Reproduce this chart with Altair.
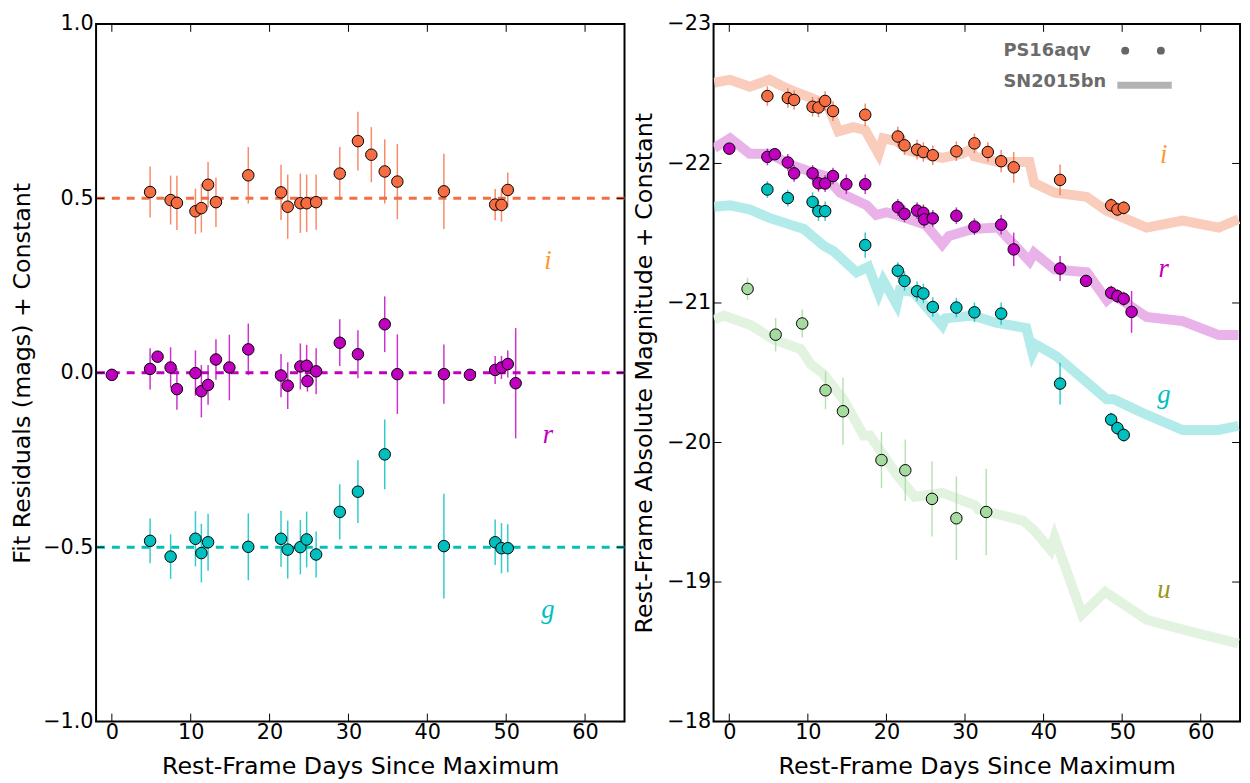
import altair as alt
import pandas as pd

# ---------------- PS16aqv photometry ----------------
i_days = [4.85, 7.45, 8.25, 10.6, 11.35, 12.2, 13.2, 17.3, 21.45, 22.3, 23.9, 24.7, 25.9,
          28.9, 31.2, 32.9, 34.6, 36.2, 42.1, 48.6, 49.4, 50.2]
i_res = [0.518, 0.495, 0.487, 0.463, 0.472, 0.539, 0.489, 0.566, 0.517, 0.476, 0.486, 0.486,
         0.489, 0.571, 0.664, 0.625, 0.577, 0.548, 0.52, 0.482, 0.481, 0.524]
i_res_err = [0.073, 0.07, 0.078, 0.065, 0.07, 0.065, 0.071, 0.081, 0.079, 0.092, 0.085, 0.082,
             0.079, 0.076, 0.084, 0.079, 0.092, 0.108, 0.108, 0.045, 0.048, 0.05]
i_mag = [-22.483, -22.469, -22.455, -22.406, -22.401, -22.448, -22.375, -22.349, -22.193,
         -22.13, -22.099, -22.082, -22.059, -22.087, -22.144, -22.082, -22.016, -21.972,
         -21.882, -21.70, -21.67, -21.682]
i_mag_err = [0.07, 0.07, 0.07, 0.07, 0.07, 0.07, 0.07, 0.08, 0.07, 0.07, 0.07, 0.07, 0.07,
             0.07, 0.07, 0.07, 0.08, 0.11, 0.11, 0.05, 0.05, 0.05]

r_days = [0.0, 4.85, 5.8, 7.45, 8.25, 10.6, 11.35, 12.2, 13.2, 14.9, 17.3, 21.45, 22.3, 23.9,
          24.7, 24.8, 25.9, 28.9, 31.2, 34.6, 36.2, 42.1, 45.4, 48.6, 49.4, 50.2, 51.2]
r_res = [-0.006, 0.011, 0.046, 0.015, -0.047, -0.001, -0.053, -0.035, 0.038, 0.015, 0.067,
         -0.008, -0.037, 0.018, 0.02, -0.024, 0.004, 0.086, 0.053, 0.139, -0.004, -0.004,
         -0.006, 0.008, 0.015, 0.025, -0.03]
r_res_err = [0.0, 0.059, 0.0, 0.058, 0.059, 0.065, 0.075, 0.057, 0.058, 0.094, 0.074, 0.062,
             0.067, 0.066, 0.06, 0.03, 0.066, 0.067, 0.069, 0.08, 0.114, 0.085, 0.0, 0.04,
             0.033, 0.039, 0.158]
r_mag = [-22.106, -22.047, -22.066, -22.007, -21.929, -21.929, -21.858, -21.856, -21.91,
         -21.851, -21.851, -21.686, -21.639, -21.662, -21.646, -21.599, -21.606, -21.625,
         -21.547, -21.561, -21.384, -21.247, -21.158, -21.073, -21.049, -21.03, -20.936]
r_mag_err = [0.0, 0.06, 0.03, 0.06, 0.06, 0.06, 0.06, 0.06, 0.06, 0.07, 0.07, 0.06, 0.06, 0.06,
             0.06, 0.06, 0.06, 0.06, 0.06, 0.07, 0.12, 0.09, 0.0, 0.05, 0.05, 0.05, 0.15]

g_days = [4.85, 7.45, 10.6, 11.35, 12.2, 17.3, 21.45, 22.3, 23.9, 24.7, 25.9, 28.9, 31.2,
          34.6, 42.1, 48.6, 49.4, 50.2]
g_res = [-0.482, -0.527, -0.476, -0.517, -0.486, -0.499, -0.476, -0.507, -0.5, -0.478,
         -0.521, -0.399, -0.341, -0.234, -0.497, -0.486, -0.503, -0.503]
g_res_err = [0.064, 0.064, 0.079, 0.084, 0.082, 0.096, 0.08, 0.083, 0.078, 0.08, 0.066,
             0.079, 0.09, 0.1, 0.15, 0.065, 0.072, 0.069]
g_mag = [-21.813, -21.752, -21.724, -21.658, -21.658, -21.415, -21.231, -21.158, -21.084,
         -21.068, -20.971, -20.967, -20.933, -20.924, -20.422, -20.164, -20.103, -20.054]
g_mag_err = [0.06, 0.06, 0.07, 0.07, 0.07, 0.09, 0.06, 0.07, 0.07, 0.07, 0.07, 0.07, 0.07,
             0.08, 0.15, 0.05, 0.05, 0.05]

u_days = [2.33, 5.9, 9.28, 12.25, 14.47, 19.37, 22.4, 25.8, 28.9, 32.7]
u_mag = [-21.101, -20.773, -20.853, -20.374, -20.224, -19.874, -19.801, -19.596, -19.457,
         -19.502]
u_mag_err = [0.08, 0.12, 0.1, 0.135, 0.24, 0.2, 0.22, 0.27, 0.3, 0.31]

# ---------------- SN2015bn comparison curves ----------------
bn_i_days = [-1.9, 0.1, 2.6, 5.1, 7.6, 10.4, 12.5, 13.9, 15.8, 17.3, 19.0, 19.6, 21.3, 22.9,
             27.1, 29.6, 30.7, 31.2, 34.2, 38.2, 38.8, 41.4, 45.5, 48.05, 53.1, 57.7, 62.3, 64.8]
bn_i_mag = [-22.58, -22.60, -22.55, -22.60, -22.53, -22.47, -22.42, -22.23, -22.26, -22.24,
            -22.07, -22.18, -22.16, -22.09, -22.04, -22.07, -22.10, -22.05, -22.01, -22.01,
            -21.86, -21.79, -21.76, -21.66, -21.54, -21.59, -21.54, -21.60]
bn_r_days = [-1.9, 0.1, 2.6, 5.1, 7.85, 10.4, 12.25, 14.1, 17.5, 18.7, 20.0, 21.3, 25.0, 27.1,
             27.95, 31.0, 34.2, 38.2, 38.8, 41.4, 45.5, 48.05, 48.9, 53.1, 57.7, 62.3, 64.8]
bn_r_mag = [-22.11, -22.18, -22.07, -22.07, -21.99, -21.94, -21.91, -21.79, -21.70, -21.63,
            -21.65, -21.63, -21.56, -21.42, -21.48, -21.53, -21.54, -21.30, -21.36, -21.24,
            -21.22, -21.02, -21.06, -20.90, -20.87, -20.77, -20.77]
bn_g_days = [-1.9, 0.1, 2.6, 5.1, 7.85, 9.5, 12.0, 13.3, 16.2, 17.7, 19.0, 19.6, 21.3, 21.7,
             23.4, 27.1, 27.5, 31.0, 33.8, 37.8, 38.6, 39.1, 41.6, 48.05, 48.9, 52.7, 57.7,
             62.3, 64.8]
bn_g_mag = [-21.69, -21.70, -21.67, -21.61, -21.56, -21.53, -21.41, -21.37, -21.22, -21.26,
            -21.07, -21.16, -20.99, -21.09, -21.08, -20.84, -20.89, -20.91, -20.86, -20.82,
            -20.64, -20.70, -20.62, -20.31, -20.31, -20.21, -20.09, -20.09, -20.12]
bn_u_days = [-1.9, -0.7, 2.8, 5.55, 9.1, 10.4, 12.0, 14.5, 17.1, 17.9, 21.3, 23.6, 27.1, 31.3,
             31.7, 37.4, 38.8, 40.9, 41.4, 44.9, 47.85, 53.1, 57.7, 64.8]
bn_u_mag = [-20.88, -20.91, -20.84, -20.74, -20.67, -20.56, -20.49, -20.31, -20.05, -20.05,
            -19.77, -19.61, -19.64, -19.55, -19.52, -19.44, -19.37, -19.23, -19.32, -18.77,
            -18.93, -18.73, -18.66, -18.56]

# ---------------- labels / ticks ----------------
bands = ["i", "r", "g", "u"]
point_colors = ["#f46d43", "#bf00bf", "#00bfbf", "#a6dba0"]
curve_colors = ["#f9ccbc", "#e9b3e9", "#b3ebeb", "#e2f3e0"]
label_colors = ["#ff9933", "#bf00bf", "#00bfbf", "#999919"]
offsets = [0.5, 0.0, -0.5]
left_label_day = [55.3, 55.3, 55.3]
left_label_y = [0.32, -0.18, -0.68]
right_label_day = [55.3, 55.3, 55.3, 55.3]
right_label_mag = [-22.06, -21.245, -20.34, -18.945]
x_ticks = [0, 10, 20, 30, 40, 50, 60]
left_y_ticks = [-1.0, -0.5, 0.0, 0.5, 1.0]
right_y_ticks = [-23, -22, -21, -20, -19, -18]

W_L, W_R, H = 534, 532, 705
FONT = "DejaVu Sans"
TICK = 8
LAB = 21
TIT = 24

pt_scale = alt.Scale(domain=bands, range=point_colors)
curve_scale = alt.Scale(domain=bands, range=curve_colors)
lab_scale = alt.Scale(domain=bands, range=label_colors)
xs = alt.Scale(domain=[-2, 65], nice=False, zero=False)
ys_l = alt.Scale(domain=[-1, 1], nice=False, zero=False)
ys_r = alt.Scale(domain=[-23, -18], nice=False, zero=False, reverse=True)


def rows(band, days, val, err):
    return pd.DataFrame({"band": band, "day": days, "val": val,
                         "lo": [v - e for v, e in zip(val, err)],
                         "hi": [v + e for v, e in zip(val, err)]})


res_df = pd.concat([rows("i", i_days, i_res, i_res_err),
                    rows("r", r_days, r_res, r_res_err),
                    rows("g", g_days, g_res, g_res_err)], ignore_index=True)
mag_df = pd.concat([rows("i", i_days, i_mag, i_mag_err),
                    rows("r", r_days, r_mag, r_mag_err),
                    rows("g", g_days, g_mag, g_mag_err),
                    rows("u", u_days, u_mag, u_mag_err)], ignore_index=True)
curve_df = pd.concat([pd.DataFrame({"band": b, "day": d, "val": m, "ord": range(len(d))})
                      for b, d, m in [("i", bn_i_days, bn_i_mag), ("r", bn_r_days, bn_r_mag),
                                      ("g", bn_g_days, bn_g_mag), ("u", bn_u_days, bn_u_mag)]],
                     ignore_index=True)
off_df = pd.DataFrame({"band": ["i", "r", "g"], "val": offsets})
llab_df = pd.DataFrame({"band": ["i", "r", "g"], "day": left_label_day, "val": left_label_y})
rlab_df = pd.DataFrame({"band": bands, "day": right_label_day, "val": right_label_mag})
xt_df = pd.DataFrame({"day": x_ticks})
ylt_df = pd.DataFrame({"val": left_y_ticks})
yrt_df = pd.DataFrame({"val": right_y_ticks})

X_AXIS = alt.Axis(values=x_ticks, format="d", labelFont=FONT, labelFontSize=LAB,
                  labelColor="black", ticks=False, tickSize=0, domain=False, grid=False,
                  labelPadding=0, title="Rest-Frame Days Since Maximum", titleFont=FONT,
                  titleFontSize=TIT, titleFontWeight="normal", titleColor="black",
                  titlePadding=12, labelFlush=False)


def y_axis(vals, fmt, title, tp):
    return alt.Axis(values=vals, format=fmt, labelFont=FONT, labelFontSize=LAB,
                    labelColor="black", ticks=False, tickSize=0, domain=False, grid=False,
                    labelPadding=3, title=title, titleFont=FONT, titleFontSize=TIT,
                    titleFontWeight="normal", titleColor="black", titlePadding=tp,
                    labelFlush=False)


YL_AXIS = y_axis(left_y_ticks, ".1f", "Fit Residuals (mags) + Constant", 8)
YR_AXIS = y_axis(right_y_ticks, "d", "Rest-Frame Absolute Magnitude + Constant", 10)


def X():
    return alt.X("day:Q", scale=xs, axis=X_AXIS)


def tick_layers(ydf, ysc, yax, W):
    bx = alt.Chart(xt_df).mark_rule(color="black", strokeWidth=1).encode(
        x=X(), y=alt.value(H), y2=alt.value(H - TICK))
    tx = alt.Chart(xt_df).mark_rule(color="black", strokeWidth=1).encode(
        x=X(), y=alt.value(0), y2=alt.value(TICK))
    ly = alt.Chart(ydf).mark_rule(color="black", strokeWidth=1).encode(
        y=alt.Y("val:Q", scale=ysc, axis=yax), x=alt.value(0), x2=alt.value(TICK))
    ry = alt.Chart(ydf).mark_rule(color="black", strokeWidth=1).encode(
        y=alt.Y("val:Q", scale=ysc, axis=yax), x=alt.value(W), x2=alt.value(W - TICK))
    return [bx, tx, ly, ry]


# ---------------- left panel ----------------
def YL(f="val"):
    return alt.Y(f + ":Q", scale=ys_l, axis=YL_AXIS)


dashes = alt.Chart(off_df).mark_rule(strokeDash=[8, 7], strokeWidth=3).encode(
    y=YL(), color=alt.Color("band:N", scale=pt_scale, legend=None))
l_err = alt.Chart(res_df).mark_rule(strokeWidth=1.5, opacity=0.8).encode(
    x=X(), y=YL("lo"), y2="hi:Q",
    color=alt.Color("band:N", scale=pt_scale, legend=None))
l_pts = alt.Chart(res_df).mark_circle(size=135, stroke="black", strokeWidth=1,
                                     opacity=1).encode(
    x=X(), y=YL(), fill=alt.Fill("band:N", scale=pt_scale, legend=None))
l_lab = alt.Chart(llab_df).mark_text(font="Liberation Serif", fontStyle="italic",
                                     fontSize=27).encode(
    x=X(), y=YL(), text="band:N",
    color=alt.Color("band:N", scale=lab_scale, legend=None))
left = alt.layer(dashes, l_err, l_pts, l_lab,
                 *tick_layers(ylt_df, ys_l, YL_AXIS, W_L)).resolve_scale(
    color="independent").properties(width=W_L, height=H)


# ---------------- right panel ----------------
def YR(f="val"):
    return alt.Y(f + ":Q", scale=ys_r, axis=YR_AXIS)


curves = alt.Chart(curve_df).mark_line(strokeWidth=10, clip=True).encode(
    x=X(), y=YR(), order="ord:Q", detail="band:N",
    color=alt.Color("band:N", scale=curve_scale, legend=None))
r_err = alt.Chart(mag_df).mark_rule(strokeWidth=1.5, opacity=0.8).encode(
    x=X(), y=YR("lo"), y2="hi:Q",
    color=alt.Color("band:N", scale=pt_scale, legend=None))
r_pts = alt.Chart(mag_df).mark_circle(size=135, stroke="black", strokeWidth=1,
                                     opacity=1).encode(
    x=X(), y=YR(), fill=alt.Fill("band:N", scale=pt_scale, legend=None))
r_lab = alt.Chart(rlab_df).mark_text(font="Liberation Serif", fontStyle="italic",
                                     fontSize=27).encode(
    x=X(), y=YR(), text="band:N",
    color=alt.Color("band:N", scale=lab_scale, legend=None))

# legend drawn by hand (matplotlib style, two markers)
one = pd.DataFrame({"k": [0]})
leg1 = alt.Chart(one).mark_text(font=FONT, fontWeight="bold", fontSize=18, color="#6b6b6b",
                                align="left", baseline="middle", text="PS16aqv").encode(
    x=alt.value(293), y=alt.value(27))
leg2 = alt.Chart(one).mark_text(font=FONT, fontWeight="bold", fontSize=18, color="#6b6b6b",
                                align="left", baseline="middle", text="SN2015bn").encode(
    x=alt.value(293), y=alt.value(59))
dot1 = alt.Chart(one).mark_circle(size=64, color="#666666", opacity=1).encode(
    x=alt.value(416), y=alt.value(27))
dot2 = alt.Chart(one).mark_circle(size=64, color="#666666", opacity=1).encode(
    x=alt.value(452), y=alt.value(27))
leg_line = alt.Chart(one).mark_rule(strokeWidth=7, color="#b3b3b3").encode(
    x=alt.value(408), x2=alt.value(463), y=alt.value(62))

right = alt.layer(curves, r_err, r_pts, r_lab, *tick_layers(yrt_df, ys_r, YR_AXIS, W_R),
                  leg1, leg2, dot1, dot2, leg_line).resolve_scale(
    color="independent").properties(width=W_R, height=H)

chart = alt.hconcat(left, right, spacing=4).properties(
    padding={"left": 2, "top": 0, "right": 0, "bottom": 0},
    background="white").configure_view(stroke="black", strokeWidth=2)

chart.save("out.html", embed_options={"renderer": "svg", "actions": False})
